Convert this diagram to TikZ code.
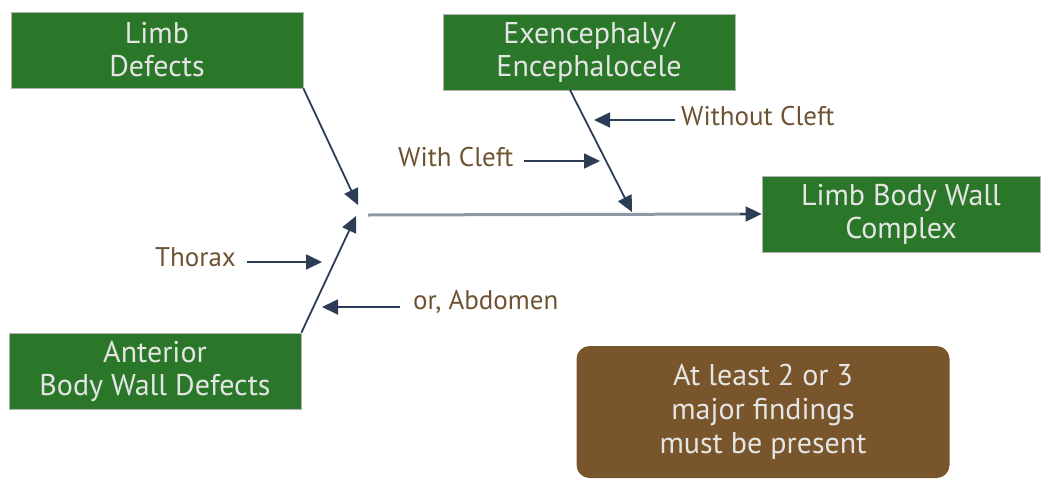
\documentclass[tikz,border=0pt]{standalone}
\usepackage{fontspec}
\setmainfont{PT Sans}
\usetikzlibrary{arrows.meta, positioning}
\definecolor{boxgreen}{HTML}{2B7729}
\definecolor{notebrown}{HTML}{79552B}
\definecolor{labelbrown}{HTML}{6E5331}
\definecolor{arrownavy}{HTML}{2C3D55}
\definecolor{spinegrey}{HTML}{8E99A6}
\tikzstyle{box} = [rectangle, fill = boxgreen, draw = gray!60, line width = 0.8,
  minimum width = 292, minimum height = 76, text = white!90!black,
  align = center, font = \fontsize{30}{33}\selectfont, inner sep = 0]
\tikzstyle{note} = [
  rectangle, rounded corners = 13,
  minimum width = 373, minimum height = 132,
  fill = notebrown, text = white!90!black,
  align = center, font = \fontsize{30}{34}\selectfont
]
\tikzstyle{lbl} = [text = labelbrown, font = \fontsize{27}{30}\selectfont,
  inner sep = 0]
\tikzstyle{arr} = [draw = arrownavy, line width = 1.8,
  -{Triangle[length = 16, width = 15]}]

\begin{document}
\begin{tikzpicture}[x = 1pt, y = -1pt]
      \useasboundingbox (0, 0) rectangle (1042, 480);
      % boxes
      \node [box] (limb) at (157, 50) {Limb\\Defects};
      \node [box] (exen) at (589, 52) {Exencephaly/\\Encephalocele};
      \node [box, minimum width = 278] (lbwc) at (901, 214)
        {Limb Body Wall\\Complex};
      \node [box] (abwd) at (155, 371) {Anterior\\Body Wall Defects};
      \node [note] (major) at (763, 412)
        {At least 2 or 3\\major findings\\must be present};
      % labels
      \node [lbl, anchor = west] (nocleft) at (681, 116) {Without Cleft};
      \node [lbl, anchor = west] (cleft) at (398, 157) {With Cleft};
      \node [lbl, anchor = west] (thorax) at (155, 257) {Thorax};
      \node [lbl, anchor = west] (abdomen) at (413, 302) {or, Abdomen};
      % points on the bones
      \coordinate (limb-tip) at (358, 205);
      \coordinate (abwd-tip) at (356, 216);
      \coordinate (spine) at (368, 215);
      \coordinate (exen-foot) at (570, 90);
      \coordinate (exen-tip) at (632, 212);
      \coordinate (nocleft-tip) at (594, 120);
      \coordinate (cleft-tip) at (600, 161);
      \coordinate (thorax-tip) at (322, 262);
      \coordinate (abdomen-tip) at (322, 307);

      \draw [line width = 3, draw = spinegrey] (spine) -- ([xshift = -14]lbwc.west);
      \draw [arr] ([xshift = -22]lbwc.west) -- (lbwc.west);
      \draw [arr] (limb.south east) -- (limb-tip);
      \draw [arr] (abwd.north east) -- (abwd-tip);
      \draw [arr] (exen-foot) -- (exen-tip);
      \draw [arr] ([xshift = -6]nocleft.west |- nocleft-tip) -- (nocleft-tip);
      \draw [arr] ([xshift = 11]cleft.east |- cleft-tip) -- (cleft-tip);
      \draw [arr] ([xshift = 11]thorax.east |- thorax-tip) -- (thorax-tip);
      \draw [arr] ([xshift = -13]abdomen.west |- abdomen-tip) -- (abdomen-tip);
    \end{tikzpicture}
\end{document}
